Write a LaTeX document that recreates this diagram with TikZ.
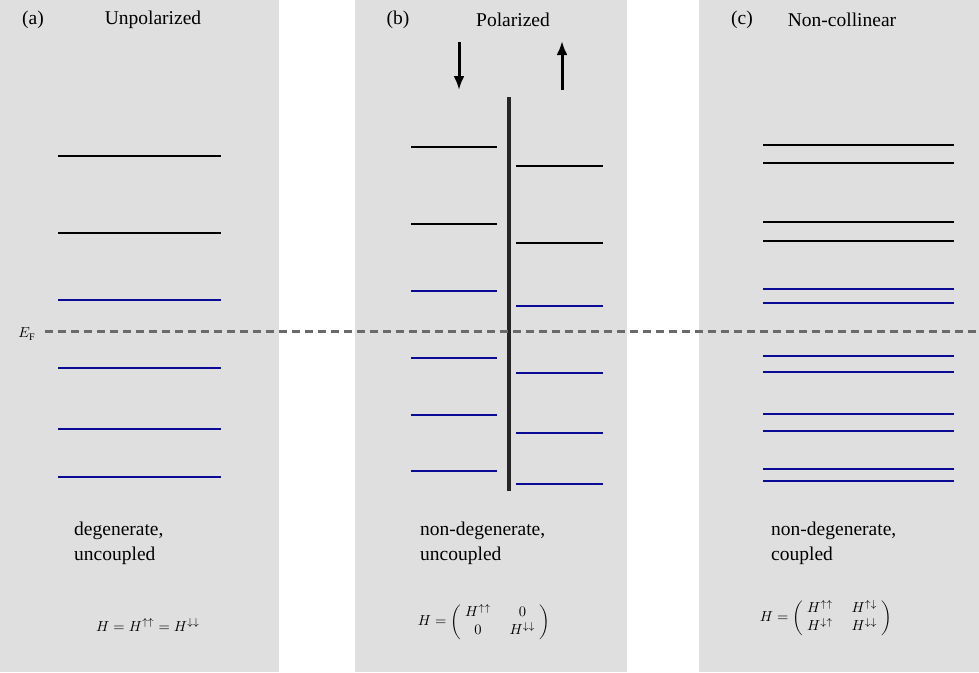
\documentclass[tikz,border=0pt]{standalone}
\usepackage{fix-cm}
\usepackage{amsmath}
\usepackage{fontspec}
\setmainfont{Liberation Serif}
\usetikzlibrary{arrows.meta}
\begin{document}
\begin{tikzpicture}[x=1pt,y=-1pt,
  lvK/.style={line width=2.6pt,black},
  lvB/.style={line width=2.6pt,draw={rgb,255:red,10;green,10;blue,150}},
  txt/.style={font=\fontsize{19.5}{25}\selectfont,inner sep=0pt},
  mth/.style={inner sep=0pt,scale=1.45},
  spinarr/.style={line width=3pt,-{Latex[length=14pt,width=11pt]}}]
\useasboundingbox (0,0) rectangle (979,672);
\fill[gray!25] (0,0) rectangle (279,672);
\fill[gray!25] (355,0) rectangle (627,672);
\fill[gray!25] (699,0) rectangle (979,672);
% (a)
\node[txt] (la) at (33,20) {(a)};
\node[txt] (ta) at (153,20) {Unpolarized};
\foreach \y in {156,233} \draw[lvK] (58,\y) -- (221,\y);
\foreach \y in {300,368,429,477} \draw[lvB] (58,\y) -- (221,\y);
\node[txt,align=left,anchor=west] (da) at (74,543) {degenerate,\\uncoupled};
\node[mth] (ea) at (148,625) {$H=H^{\uparrow\uparrow}=H^{\downarrow\downarrow}$};
% (b)
\node[txt] (lb) at (398,20) {(b)};
\node[txt] (tb) at (513,20) {Polarized};
\coordinate (d1) at (459,42); \coordinate (d2) at (459,90);
\draw[spinarr] (d1) -- (d2);
\coordinate (u1) at (562,90); \coordinate (u2) at (562,41);
\draw[spinarr] (u1) -- (u2);
\draw[line width=3.5pt,gray!30!black] (509,97) -- (509,491);
\foreach \y in {147,224} \draw[lvK] (411,\y) -- (497,\y);
\foreach \y in {291,358,415,471} \draw[lvB] (411,\y) -- (497,\y);
\foreach \y in {166,243} \draw[lvK] (516,\y) -- (603,\y);
\foreach \y in {306,373,433,484} \draw[lvB] (516,\y) -- (603,\y);
\node[txt,align=left,anchor=west] (db) at (420,543) {non-degenerate,\\uncoupled};
\node[mth] (eb) at (484,622) {$H=\left(\;\begin{matrix} H^{\uparrow\uparrow} & \;0\\ 0 & \;H^{\downarrow\downarrow}\end{matrix}\;\right)$};
% (c)
\node[txt] (lc) at (742,20) {(c)};
\node[txt] (tc) at (842,20) {Non-collinear};
\foreach \y in {145,163,222,241} \draw[lvK] (763,\y) -- (954,\y);
\foreach \y in {289,303,356,372,414,431,469,481} \draw[lvB] (763,\y) -- (954,\y);
\node[txt,align=left,anchor=west] (dc) at (771,543) {non-degenerate,\\coupled};
\node[mth] (ec) at (826,618) {$H=\left(\;\begin{matrix} H^{\uparrow\uparrow} & \;H^{\uparrow\downarrow}\\ H^{\downarrow\uparrow} & \;H^{\downarrow\downarrow}\end{matrix}\;\right)$};
% Fermi level
\node[mth] (ef) at (27,334) {$E_{\mathrm{F}}$};
\coordinate (f1) at (45,331); \coordinate (f2) at (979,331);
\draw[line width=3pt,gray!70!black!90,dash pattern=on 8pt off 5pt] (f1) -- (f2);
\end{tikzpicture}
\end{document}
